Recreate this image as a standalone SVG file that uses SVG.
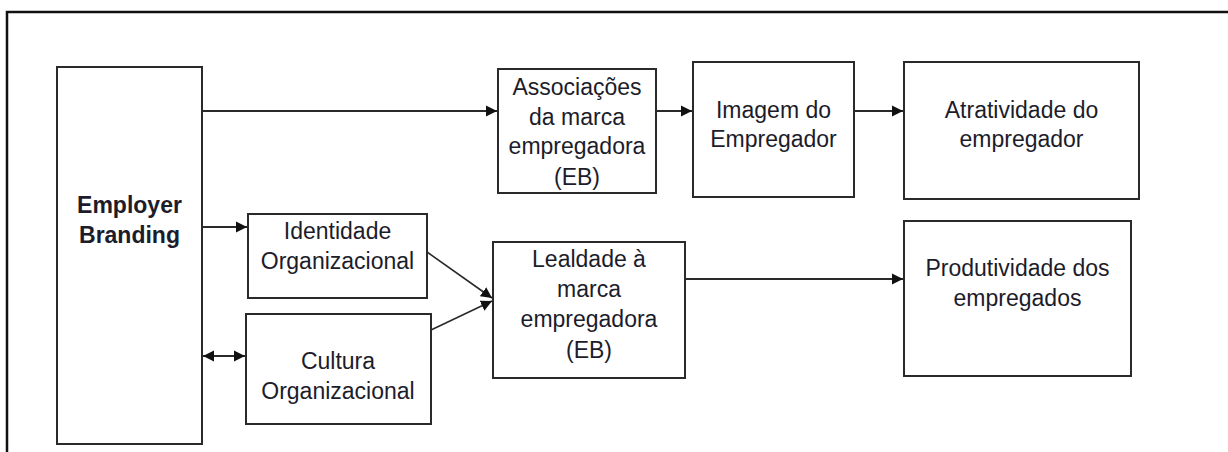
<svg xmlns="http://www.w3.org/2000/svg" width="1228" height="452" viewBox="0 0 1228 452">
<defs>
<marker id="ah" markerUnits="userSpaceOnUse" markerWidth="12" markerHeight="12" refX="11" refY="6" orient="auto-start-reverse" viewBox="0 0 12 12">
<path d="M0,0.5 L11,6 L0,11.5 z" fill="#111"/>
</marker>
<style>
.box{fill:#fff;stroke:#2a2a2a;stroke-width:2}
.t{font-family:"Liberation Sans",Arial,sans-serif;font-size:23px;fill:#1c1c2a;text-anchor:middle}
.b{font-weight:bold}
.c{fill:none;stroke:#2a2a2a;stroke-width:2}
.frame{fill:none;stroke:#111;stroke-width:2.5}
</style>
</defs>
<rect width="1228" height="452" fill="#fff"/>
<path class="frame" d="M7,452 V12 H1228"/>
<g id="connectors">
<path class="c" d="M202,111 H497" marker-end="url(#ah)"/>
<path class="c" d="M656,111 H692" marker-end="url(#ah)"/>
<path class="c" d="M854,111 H903" marker-end="url(#ah)"/>
<path class="c" d="M685,279 H903" marker-end="url(#ah)"/>
<path class="c" d="M202,227 H247" marker-end="url(#ah)"/>
<path class="c" d="M203,356 H245" marker-start="url(#ah)" marker-end="url(#ah)"/>
<path class="c" style="stroke-width:1.6" d="M427,252 L492,298" marker-end="url(#ah)"/>
<path class="c" style="stroke-width:1.6" d="M431,330 L492,301" marker-end="url(#ah)"/>
</g>
<g id="employer-branding">
<rect class="box" x="57" y="67" width="145" height="377"/>
<text class="t b" x="129.5" y="213">Employer</text>
<text class="t b" x="129.5" y="243">Branding</text>
</g>
<g id="associacoes">
<rect class="box" x="498" y="69" width="158" height="124"/>
<text class="t" x="577" y="95">Associações</text>
<text class="t" x="577" y="125">da marca</text>
<text class="t" x="577" y="154">empregadora</text>
<text class="t" x="577" y="185">(EB)</text>
</g>
<g id="imagem">
<rect class="box" x="693" y="62" width="161" height="135"/>
<text class="t" x="773.5" y="118">Imagem do</text>
<text class="t" x="773.5" y="147">Empregador</text>
</g>
<g id="atratividade">
<rect class="box" x="904" y="62" width="235" height="137"/>
<text class="t" x="1021.5" y="118">Atratividade do</text>
<text class="t" x="1021.5" y="147">empregador</text>
</g>
<g id="identidade">
<rect class="box" x="248" y="214" width="179" height="84"/>
<text class="t" x="337.5" y="239">Identidade</text>
<text class="t" x="337.5" y="269">Organizacional</text>
</g>
<g id="cultura">
<rect class="box" x="246" y="314" width="185" height="110"/>
<text class="t" x="338" y="369">Cultura</text>
<text class="t" x="338" y="399">Organizacional</text>
</g>
<g id="lealdade">
<rect class="box" x="493" y="242" width="192" height="136"/>
<text class="t" x="589" y="267">Lealdade à</text>
<text class="t" x="589" y="297">marca</text>
<text class="t" x="589" y="327">empregadora</text>
<text class="t" x="589" y="358">(EB)</text>
</g>
<g id="produtividade">
<rect class="box" x="904" y="221" width="227" height="155"/>
<text class="t" x="1017.5" y="276">Produtividade dos</text>
<text class="t" x="1017.5" y="306">empregados</text>
</g>
</svg>
